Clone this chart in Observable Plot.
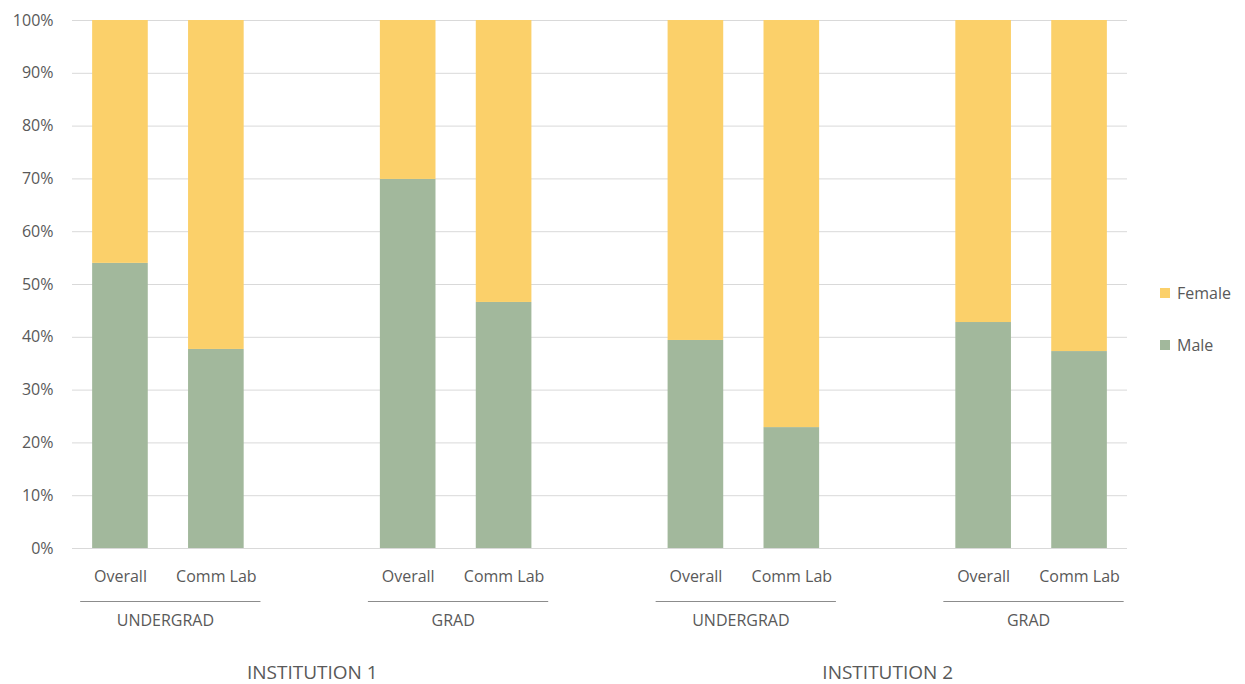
<!DOCTYPE html>
<html>
<head>
<meta charset="utf-8">
<script src="https://cdn.jsdelivr.net/npm/d3@7"></script>
<script src="https://cdn.jsdelivr.net/npm/@observablehq/plot@0.6"></script>
<style>
  html, body { margin: 0; padding: 0; background: #fff; }
  #wrap { position: relative; width: 1245px; height: 684px; font-family: "Open Sans", sans-serif; }
  #legend { position: absolute; left: 1160px; top: 282px; color: #595959; font-size: 16px; }
  #legend .item { display: flex; align-items: center; height: 22px; margin-bottom: 30px; }
  #legend .sw { width: 10px; height: 10px; margin-right: 7px; }
</style>
</head>
<body>
<div id="wrap">
  <div id="chart"></div>
  <div id="legend"></div>
</div>
<script>
// ---- data ----
const institutions = ["INSTITUTION 1", "INSTITUTION 2"];
const levels = ["UNDERGRAD", "GRAD"];
const programs = ["Overall", "Comm Lab"];
const series = ["Male", "Female"];
const colors = ["#A2B89C", "#FBD06A"];
// Male share (%) per bar, order: inst -> level -> program
const maleShare = [54.0, 37.7, 69.9, 46.6, 39.4, 22.9, 42.8, 37.3];
const yTicks = [0, 10, 20, 30, 40, 50, 60, 70, 80, 90, 100];

// ---- build table ----
const bars = [];
let k = 0;
institutions.forEach((inst, ii) => {
  levels.forEach((lev, li) => {
    programs.forEach((prog, pi) => {
      const g = ii * levels.length + li;
      const slot = g * 3 + pi;
      bars.push({inst, lev, prog, slot, male: maleShare[k]});
      k++;
    });
  });
});
const rects = [];
bars.forEach(b => {
  rects.push({slot: b.slot, series: "Male", y1: 0, y2: b.male});
  rects.push({slot: b.slot, series: "Female", y1: b.male, y2: 100});
});
const groups = [];
institutions.forEach((inst, ii) => levels.forEach((lev, li) => {
  const g = ii * levels.length + li;
  groups.push({label: lev, s0: g * 3, s1: g * 3 + 1});
}));
const instLabels = institutions.map((inst, ii) => {
  const s0 = ii * 6, s1 = ii * 6 + 4;
  return {label: inst, mid: (s0 + s1) / 2};
});

const half = 0.29;
const gray = "#595959";

const chart = Plot.plot({
  width: 1245,
  height: 684,
  marginLeft: 72,
  marginRight: 118,
  marginTop: 20,
  marginBottom: 136,
  style: {fontFamily: "Open Sans, sans-serif", fontSize: "16px", color: gray, background: "#fff"},
  x: {type: "linear", domain: [-0.5, 10.5], axis: null},
  y: {domain: [0, 100], ticks: yTicks, tickFormat: d => d + "%", tickSize: 0, tickPadding: 19, label: null},
  color: {domain: series, range: colors},
  marks: [
    Plot.ruleY(yTicks, {stroke: "#d9d9d9", strokeWidth: 1}),
    Plot.rect(rects, {
      x1: d => d.slot - half, x2: d => d.slot + half,
      y1: "y1", y2: "y2", fill: "series"
    }),
    Plot.text(bars, {x: "slot", text: "prog", frameAnchor: "bottom", dy: 33, fill: gray, fontSize: 16}),
    Plot.link(groups, {x1: d => d.s0 - 0.42, x2: d => d.s1 + 0.46, y1: () => 0, y2: () => 0, dy: 53, stroke: "#8c8c8c", strokeWidth: 1}),
    Plot.text(groups, {x: d => (d.s0 + d.s1) / 2, text: "label", frameAnchor: "bottom", dy: 77, dx: -3, fill: gray, fontSize: 16}),
    Plot.text(instLabels, {x: "mid", text: "label", frameAnchor: "bottom", dy: 130, fill: gray, fontSize: 19})
  ]
});
document.getElementById("chart").appendChild(chart);

const legend = document.getElementById("legend");
[1, 0].forEach(i => {
  const it = document.createElement("div");
  it.className = "item";
  it.innerHTML = `<span class="sw" style="background:${colors[i]}"></span><span>${series[i]}</span>`;
  legend.appendChild(it);
});
</script>
</body>
</html>
